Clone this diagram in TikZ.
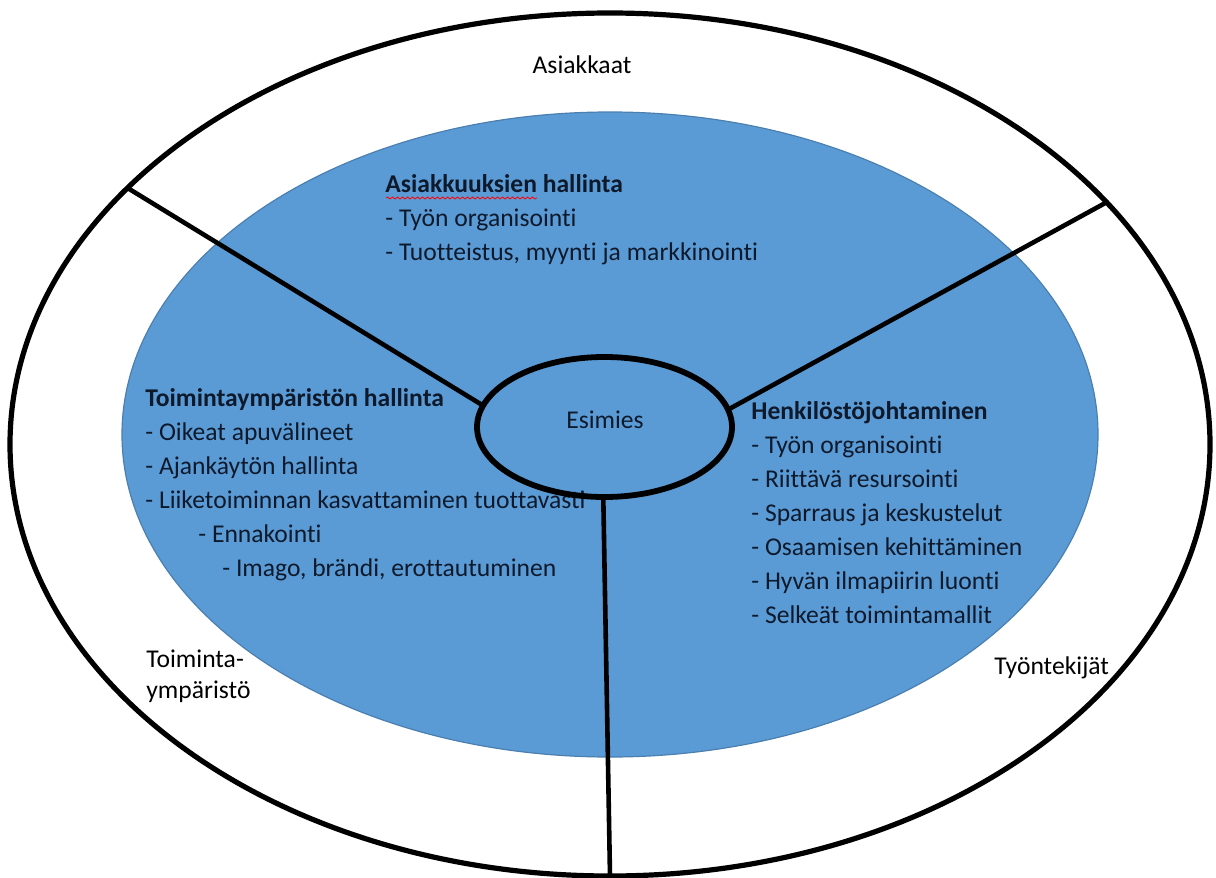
\documentclass[tikz,border=0pt]{standalone}
\usepackage{fontspec}
\setmainfont{Carlito}[Ligatures=CommonOff]
\usetikzlibrary{shapes.geometric,decorations.pathmorphing}
\definecolor{officeblue}{HTML}{5B9BD5}
\definecolor{blueedge}{HTML}{4A7FB0}
\definecolor{inktext}{HTML}{0E1A2C}

\begin{document}
\begin{tikzpicture}[x=0.5pt,y=-0.5pt,
    ring/.style={ellipse, draw, inner sep=0pt, outer sep=0pt},
    spoke/.style={line width=2.3pt},
    txt/.style={inner sep=0pt, anchor=base west, align=left,
      font=\fontsize{12.8}{17}\selectfont},
  ]
  \useasboundingbox (0,0) rectangle (1216,878);
  % rings
  \node[ring, line width=2.6pt, minimum width=600pt, minimum height=431.5pt] (outer) at (610,444.5) {};
  \node[ring, draw=blueedge, line width=0.6pt, fill=officeblue,
    minimum width=488pt, minimum height=322.5pt] (core) at (610,434.5) {};

  % texts (anchored at the baseline of the last line)
  \node[txt, anchor=base] (clients) at (582,73) {Asiakkaat};
  \node[txt, text=inktext] (clientlist) at (385,260) {\textbf{Asiakkuuksien hallinta}\\
    - Työn organisointi\\
    - Tuotteistus, myynti ja markkinointi};
  \draw[red, decorate, decoration={snake, amplitude=0.5pt, segment length=2.5pt}]
    (386,198) -- (537,198);
  \node[txt, text=inktext] (envlist) at (145,576) {\textbf{Toimintaympäristön hallinta}\\
    - Oikeat apuvälineet\\
    - Ajankäytön hallinta\\
    - Liiketoiminnan kasvattaminen tuottavasti\\
    \hspace*{26.5pt}- Ennakointi\\
    \hspace*{38.5pt}- Imago, brändi, erottautuminen};
  \node[txt, text=inktext] (stafflist) at (751,623) {\textbf{Henkilöstöjohtaminen}\\
    - Työn organisointi\\
    - Riittävä resursointi\\
    - Sparraus ja keskustelut\\
    - Osaamisen kehittäminen\\
    - Hyvän ilmapiirin luonti\\
    - Selkeät toimintamallit};
  \node[txt, font=\fontsize{12.8}{15.5}\selectfont] (env) at (146,698) {Toiminta-\\ympäristö};
  \node[txt] (staff) at (994,674) {Työntekijät};

  % centre
  \node[ring, line width=2.9pt, minimum width=127.5pt, minimum height=70pt] (boss) at (604.5,427) {};
  \node[txt, anchor=base, text=inktext] (bosslabel) at (605,428) {Esimies};

  \draw[spoke] (boss.170) -- (outer.152.3);
  \draw[spoke] (boss.8.7) -- (outer.26.6);
  \draw[spoke] (boss.269) -- (outer.270.2);
\end{tikzpicture}
\end{document}
